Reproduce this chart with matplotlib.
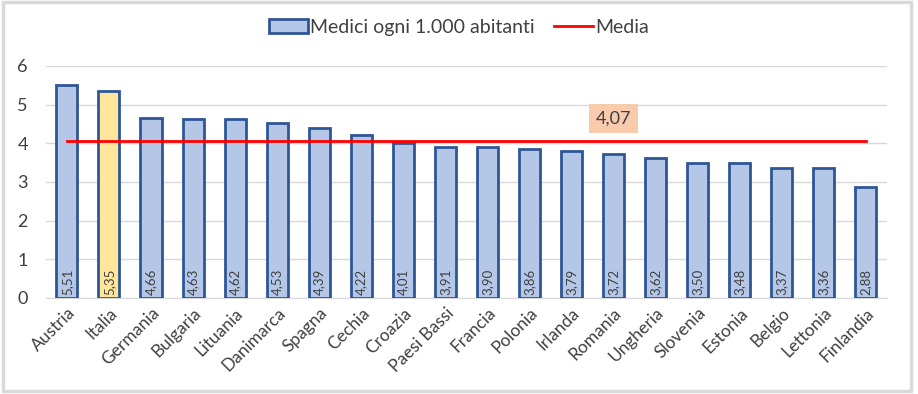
import matplotlib
matplotlib.use("Agg")
import matplotlib.pyplot as plt
from matplotlib.patches import Rectangle, Patch
from matplotlib.lines import Line2D

countries = ["Austria", "Italia", "Germania", "Bulgaria", "Lituania", "Danimarca", "Spagna",
             "Cechia", "Croazia", "Paesi Bassi", "Francia", "Polonia", "Irlanda", "Romania",
             "Ungheria", "Slovenia", "Estonia", "Belgio", "Lettonia", "Finlandia"]
values = [5.51, 5.35, 4.66, 4.63, 4.62, 4.53, 4.39, 4.22, 4.01, 3.91, 3.90, 3.86, 3.79, 3.72,
          3.62, 3.50, 3.48, 3.37, 3.36, 2.88]
media = 4.07
highlight = "Italia"

font = ["Lato", "DejaVu Sans"]
plt.rcParams['font.family'] = font

fig = plt.figure(figsize=(9.18, 3.94), dpi=100)
fig.patch.set_facecolor("white")
ax = fig.add_axes([0.050, 0.2437, 0.916, 0.5888])

x = list(range(len(countries)))
colors = ["#FFE699" if c == highlight else "#B4C7E7" for c in countries]
bars = ax.bar(x, values, width=0.5, color=colors, edgecolor="#2F5597", linewidth=2.0, zorder=3)

ax.plot([x[0], x[-1]], [media] * 2, color="#FF0000", linewidth=2.0, zorder=4)

for xi, v in zip(x, values):
    ax.text(xi, 0.08, f"{v:.2f}".replace(".", ","), rotation=90, ha="center", va="bottom",
            fontsize=9.5, color="#404040", zorder=5)

ax.text(13, 4.65, f"{media:.2f}".replace(".", ","), ha="center", va="center", fontsize=13,
        color="#404040", zorder=6,
        bbox=dict(boxstyle="square,pad=0.35", facecolor="#F8CBAD", edgecolor="none"))

ax.set_xlim(-0.5, len(countries) - 0.5)
ax.set_ylim(0, 6)
ax.set_yticks(range(0, 7))
ax.yaxis.grid(True, color="#D9D9D9", linewidth=1.0, zorder=0)
ax.set_axisbelow(True)
for s in ["top", "right", "left"]:
    ax.spines[s].set_visible(False)
ax.spines["bottom"].set_color("#D9D9D9")
ax.tick_params(axis="both", length=0, colors="#404040")
ax.tick_params(axis="y", labelsize=13, pad=13)
ax.set_xticks(x)
ax.set_xticklabels(countries, rotation=45, ha="right", rotation_mode="anchor", fontsize=12.5)
ax.tick_params(axis="x", pad=5)

handles = [Patch(facecolor="#B4C7E7", edgecolor="#2F5597", linewidth=2.0),
           Line2D([0], [0], color="#FF0000", linewidth=2.0)]
fig.legend(handles, ["Medici ogni 1.000 abitanti", "Media"], loc="center",
           bbox_to_anchor=(0.50, 0.93), ncol=2, frameon=False, fontsize=14,
           handlelength=2.0, handletextpad=0.1, columnspacing=1.0, labelcolor="#404040")

fig.patches.append(Rectangle((0.003, 0.008), 0.989, 0.987, transform=fig.transFigure,
                             fill=False, edgecolor="#D9D9D9", linewidth=2.5))

fig.savefig("out.png", dpi=100)
